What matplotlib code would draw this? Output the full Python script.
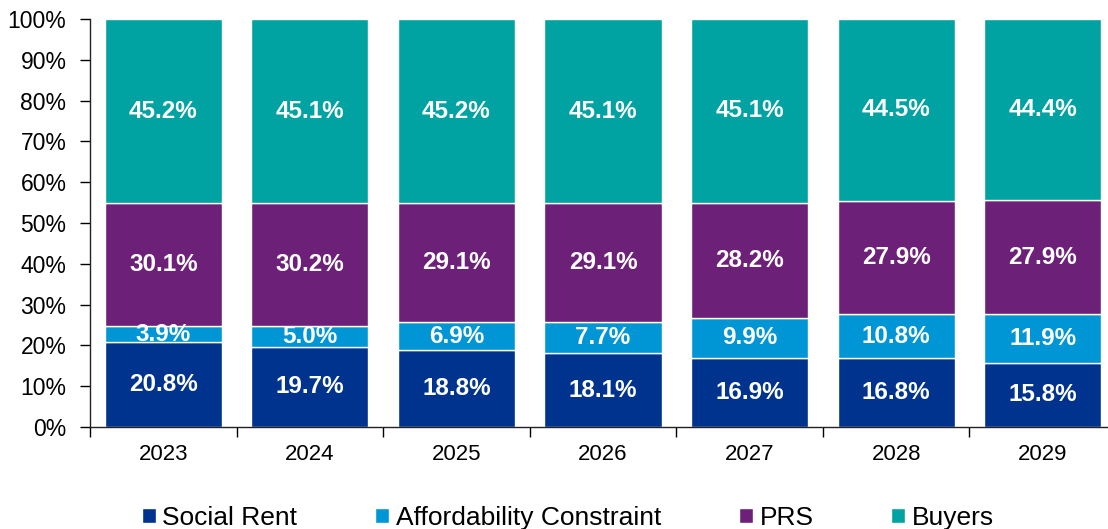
import matplotlib
matplotlib.use("Agg")
import matplotlib.pyplot as plt
import numpy as np

years = ["2023", "2024", "2025", "2026", "2027", "2028", "2029"]
social_rent = [20.8, 19.7, 18.8, 18.1, 16.9, 16.8, 15.8]
affordability = [3.9, 5.0, 6.9, 7.7, 9.9, 10.8, 11.9]
prs = [30.1, 30.2, 29.1, 29.1, 28.2, 27.9, 27.9]
buyers = [45.2, 45.1, 45.2, 45.1, 45.1, 44.5, 44.4]

series_names = ["Social Rent", "Affordability Constraint", "PRS", "Buyers"]
series_vals = [social_rent, affordability, prs, buyers]
colors = ["#00338D", "#0096D6", "#6D2077", "#00A3A1"]

plt.rcParams['font.family'] = ['Liberation Sans', 'DejaVu Sans']

W, H = 1108, 529
fig = plt.figure(figsize=(W / 100, H / 100), dpi=100)
ax = fig.add_axes([90 / W, 1 - 427 / H, (1116 - 90) / W, (427 - 19) / H])

x = np.arange(len(years))
bottom = np.zeros(len(years))
handles = []
for name, vals, c in zip(series_names, series_vals, colors):
    vals = np.array(vals)
    b = ax.bar(x, vals, bottom=bottom, width=0.8, color=c, edgecolor="white",
               linewidth=1.0, label=name)
    handles.append(b)
    for xi, v, bt in zip(x, vals, bottom):
        ax.text(xi, bt + v / 2, f"{v:.1f}%", ha="center", va="center",
                color="white", fontsize=17.5, fontweight="bold")
    bottom += vals

ax.set_xlim(-0.5, len(years) - 0.5)
ax.set_ylim(0, 100)
ax.set_yticks(np.arange(0, 101, 10))
ax.set_yticklabels([f"{v}%" for v in range(0, 101, 10)], fontsize=16.5)
ax.set_xticks(x)
ax.set_xticklabels(years, fontsize=16)
ax.set_xticks(np.arange(-0.5, len(years), 1.0), minor=True)
ax.tick_params(axis="x", which="major", length=0, pad=12)
ax.tick_params(axis="x", which="minor", length=7, width=1, direction="out")
ax.tick_params(axis="y", length=7, width=1, direction="out", pad=10)
for s in ["top", "right"]:
    ax.spines[s].set_visible(False)
for s in ["left", "bottom"]:
    ax.spines[s].set_linewidth(1)
    ax.spines[s].set_color("#222222")

leg = fig.legend(handles=handles, labels=series_names, loc="center",
                 bbox_to_anchor=(568 / W, 1 - 518 / H), ncol=4, frameon=False,
                 fontsize=19, handlelength=0.53, handleheight=0.53,
                 handletextpad=0.25, columnspacing=2.95, borderpad=0)

fig.savefig("out.png", dpi=100)
